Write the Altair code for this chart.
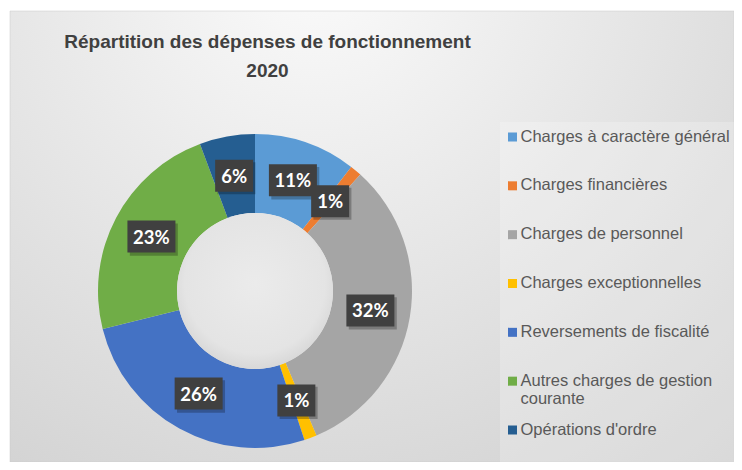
import altair as alt
import pandas as pd

# ---- data ----
categories = [
    "Charges à caractère général",
    "Charges financières",
    "Charges de personnel",
    "Charges exceptionnelles",
    "Reversements de fiscalité",
    "Autres charges de gestion courante",
    "Opérations d'ordre",
]
shares = [10.5, 1.2, 31.9, 1.3, 26.2, 23.2, 5.7]
colors = ["#5B9BD5", "#ED7D31", "#A5A5A5", "#FFC000", "#4472C4", "#70AD47", "#255E91"]
legend_labels = [
    "Charges à caractère général",
    "Charges financières",
    "Charges de personnel",
    "Charges exceptionnelles",
    "Reversements de fiscalité",
    "Autres charges de gestion\ncourante",
    "Opérations d'ordre",
]
title_lines = ["Répartition des dépenses de fonctionnement", "2020"]

# ---- layout ----
W, H = 726, 454
CX, CY = 247, 283
R_OUT, R_IN, R_LAB = 157, 78, 117

df = pd.DataFrame({
    "cat": categories,
    "share": shares,
    "order": list(range(len(categories))),
    "legend": legend_labels,
})
one = pd.DataFrame({"t": ["\n".join(title_lines)]})

color = alt.Color("cat:N", scale=alt.Scale(domain=categories, range=colors), legend=None)

bg_grad = alt.RadialGradient(
    gradient="radial", x1=0.42, y1=0.12, r1=0, x2=0.42, y2=0.12, r2=0.95,
    stops=[alt.GradientStop(offset=0, color="#fbfbfb"),
           alt.GradientStop(offset=1, color="#cdcdcd")],
)
bg = alt.Chart(one).mark_rect(fill=bg_grad, stroke="#c8c8c8", strokeWidth=0.5).encode(
    x=alt.value(2), x2=alt.value(W), y=alt.value(3), y2=alt.value(H)
)
legend_box = alt.Chart(one).mark_rect(fill="white", fillOpacity=0.22).encode(
    x=alt.value(492), x2=alt.value(W), y=alt.value(114), y2=alt.value(H)
)

donut = alt.Chart(df).mark_arc(outerRadius=R_OUT, innerRadius=R_IN).encode(
    theta=alt.Theta("share:Q", stack=True),
    order=alt.Order("order:Q"),
    color=color,
    x=alt.value(CX),
    y=alt.value(CY),
)

hole_grad = alt.RadialGradient(
    gradient="radial", x1=0.5, y1=0.45, r1=0, x2=0.5, y2=0.45, r2=0.6,
    stops=[alt.GradientStop(offset=0, color="#ebebeb"),
           alt.GradientStop(offset=0.75, color="#e4e4e4"),
           alt.GradientStop(offset=1, color="#d2d2d2")],
)
hole = alt.Chart(one).mark_arc(outerRadius=R_IN, innerRadius=0, theta=0, theta2=6.2832,
                               fill=hole_grad).encode(x=alt.value(CX), y=alt.value(CY))

lab = alt.Chart(df).transform_joinaggregate(total="sum(share)").transform_window(
    cum="sum(share)", sort=[alt.SortField("order")], frame=[None, 0]
).transform_calculate(
    mid="(datum.cum - datum.share/2)/datum.total*2*PI",
    px=f"{R_LAB}*sin(datum.mid)",
    py=f"{R_LAB}*cos(datum.mid)",
    label="format(round(datum.share/datum.total*100), 'd') + '%'",
)
xenc = alt.X("px:Q", scale=alt.Scale(domain=[-CX, W - CX], nice=False, zero=False), axis=None)
yenc = alt.Y("py:Q", scale=alt.Scale(domain=[-(H - CY), CY], nice=False, zero=False), axis=None)

WIDE = "M-1,-0.667L1,-0.667L1,0.667L-1,0.667Z"
NARROW = "M-1,-0.842L1,-0.842L1,0.842L-1,0.842Z"
WIDE_S = "M-0.9,-0.55L1.1,-0.55L1.1,0.8L-0.9,0.8Z"
NARROW_S = "M-0.88,-0.72L1.12,-0.72L1.12,0.97L-0.88,0.97Z"

shadows = lab.mark_point(filled=True, opacity=0.25, strokeWidth=0).encode(
    x=xenc, y=yenc,
    shape=alt.condition("length(datum.label) > 2", alt.value(WIDE_S), alt.value(NARROW_S)),
    size=alt.condition("length(datum.label) > 2", alt.value(2304), alt.value(1444)),
    color=alt.value("#000000"),
)
boxes = lab.mark_point(filled=True, opacity=1, strokeWidth=0).encode(
    x=xenc, y=yenc,
    shape=alt.condition("length(datum.label) > 2", alt.value(WIDE), alt.value(NARROW)),
    size=alt.condition("length(datum.label) > 2", alt.value(2304), alt.value(1444)),
    color=alt.value("#404040"),
)
texts = lab.mark_text(font="Lato", fontSize=18.5, fontWeight="bold", color="white",
                      baseline="middle", align="center", dy=1).encode(
    x=xenc, y=yenc, text="label:N"
)

legend_y = alt.Y("cat:N", scale=alt.Scale(domain=categories, range=[129, 422], padding=0), axis=None)
leg_sq = alt.Chart(df).mark_square(size=81, opacity=1).encode(
    x=alt.value(504.5), y=legend_y, color=color
)
leg_txt = alt.Chart(df).mark_text(
    align="left", baseline="top", dy=-8.5, lineBreak="\n", lineHeight=18,
    font="Liberation Sans", fontSize=16.5, color="#595959",
).encode(x=alt.value(512.5), y=legend_y, text="legend:N")

title = alt.Chart(one).mark_text(
    align="center", baseline="middle", lineBreak="\n", lineHeight=29,
    font="Liberation Sans", fontSize=19, fontWeight="bold", color="#404040",
).encode(x=alt.value(259.5), y=alt.value(34), text="t:N")

chart = alt.layer(
    bg, legend_box, donut, hole, shadows, boxes, texts, leg_sq, leg_txt, title
).resolve_scale(
    x="independent", y="independent"
).properties(
    width=W, height=H, autosize=alt.AutoSizeParams(type="none"), padding=0, background="white"
).configure_view(stroke=None)

chart.save("out.html", embed_options={"renderer": "svg", "actions": False})
